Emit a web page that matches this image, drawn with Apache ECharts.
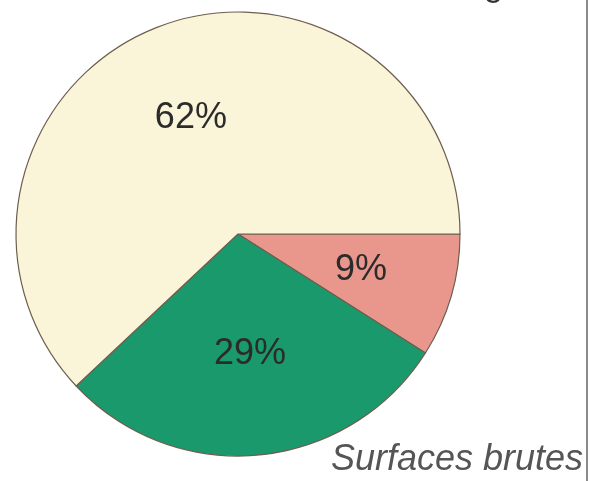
<!DOCTYPE html>
<html>
<head>
<meta charset="utf-8">
<script src="https://cdn.jsdelivr.net/npm/echarts@6/dist/echarts.min.js"></script>
<style>
html,body{margin:0;padding:0;background:#fff;}
#chart{width:591px;height:481px;}
</style>
</head>
<body>
<div id="chart"></div>
<script>
var categories = ['A', 'B', 'C'];
var values = [9, 29, 62];
var labels = ['9%', '29%', '62%'];
var colors = ['#E9978C', '#1A9A6C', '#FAF5D8'];
var caption = 'Surfaces brutes';
var labelShiftY = [0, -7, 3];

var chart = echarts.init(document.getElementById('chart'));
var data = categories.map(function (c, i) {
  return { name: c, value: values[i], itemStyle: { color: colors[i] } };
});
var labelData = categories.map(function (c, i) {
  return { name: c, value: values[i] };
});
chart.setOption({
  animation: false,
  backgroundColor: '#ffffff',
  series: [
    {
      type: 'pie',
      center: [238, 234],
      radius: [0, 222],
      startAngle: 0,
      clockwise: true,
      silent: true,
      label: { show: false },
      labelLine: { show: false },
      itemStyle: { borderColor: '#6e5e50', borderWidth: 1.2 },
      data: data
    },
    {
      type: 'pie',
      center: [238, 234],
      radius: [0, 250],
      startAngle: 0,
      clockwise: true,
      silent: true,
      itemStyle: { color: 'rgba(0,0,0,0)', borderWidth: 0 },
      label: {
        show: true,
        position: 'inside',
        fontFamily: 'Liberation Sans, Arial, sans-serif',
        fontSize: 36,
        color: '#2b2b2b',
        formatter: function (p) { return labels[p.dataIndex]; }
      },
      labelLayout: function (p) {
        return { dy: labelShiftY[p.dataIndex] };
      },
      labelLine: { show: false },
      data: labelData
    }
  ],
  graphic: [
    {
      type: 'line',
      shape: { x1: 587, y1: 0, x2: 587, y2: 481 },
      style: { stroke: '#8a8a8a', lineWidth: 2 }
    },
    {
      type: 'text',
      right: 8,
      top: 442,
      style: {
        text: caption,
        font: 'italic 36px "Liberation Sans", Arial, sans-serif',
        fill: '#555555'
      }
    },
    {
      type: 'text',
      left: 484,
      top: -30,
      style: {
        text: 'g',
        font: '34px "Liberation Sans", Arial, sans-serif',
        fill: '#333333'
      }
    }
  ]
});
</script>
</body>
</html>
